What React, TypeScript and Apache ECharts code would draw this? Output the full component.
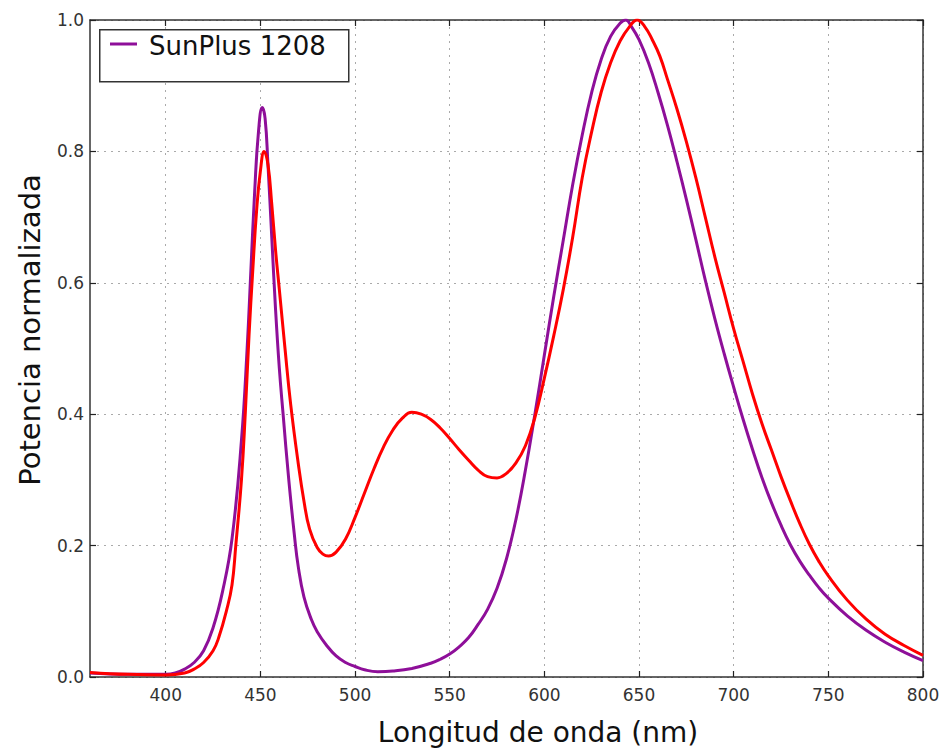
import React, { useEffect, useRef } from "react";
import * as echarts from "echarts";

const xTicks = [400, 450, 500, 550, 600, 650, 700, 750, 800];

const purpleWl = [360, 380, 400, 405, 410, 415, 420, 425, 430, 435, 440, 443, 445, 447, 449, 451, 452.5, 454, 456, 458, 460, 462, 465, 468, 470, 473, 477, 480, 485, 490, 495, 500, 505, 512, 520, 530, 540, 545, 550, 555, 560, 565, 570, 575, 580, 585, 590, 595, 600, 605, 610, 615, 620, 625, 630, 635, 640, 643, 646, 650, 655, 660, 665, 670, 675, 680, 685, 690, 695, 700, 705, 710, 715, 720, 725, 730, 735, 740, 745, 750, 760, 770, 780, 790, 800];
const purpleVal = [0.006, 0.004, 0.004, 0.006, 0.012, 0.022, 0.04, 0.075, 0.13, 0.21, 0.36, 0.5, 0.62, 0.74, 0.83, 0.867, 0.85, 0.78, 0.67, 0.56, 0.47, 0.4, 0.3, 0.215, 0.168, 0.122, 0.087, 0.069, 0.048, 0.032, 0.022, 0.016, 0.011, 0.008, 0.009, 0.013, 0.021, 0.027, 0.035, 0.046, 0.06, 0.08, 0.103, 0.135, 0.18, 0.24, 0.315, 0.4, 0.49, 0.58, 0.665, 0.75, 0.825, 0.89, 0.94, 0.975, 0.995, 1.0, 0.99, 0.97, 0.935, 0.89, 0.84, 0.785, 0.727, 0.666, 0.604, 0.546, 0.492, 0.441, 0.392, 0.346, 0.303, 0.265, 0.231, 0.201, 0.176, 0.155, 0.136, 0.12, 0.093, 0.071, 0.053, 0.038, 0.025];

const redWl = [360, 380, 400, 410, 415, 420, 425, 428, 432, 435, 437, 440, 442, 444, 446, 448, 450, 452, 454, 456, 458, 460, 463, 466, 470, 473, 476, 480, 483, 486, 490, 495, 500, 505, 510, 515, 520, 525, 530, 535, 540, 545, 550, 555, 560, 565, 570, 575, 580, 585, 590, 595, 600, 605, 610, 615, 620, 625, 630, 635, 640, 645, 649, 653, 657, 661, 665, 670, 675, 680, 685, 690, 695, 700, 705, 710, 715, 720, 725, 730, 735, 740, 745, 750, 760, 770, 780, 790, 800];
const redVal = [0.007, 0.004, 0.003, 0.006, 0.012, 0.022, 0.04, 0.06, 0.1, 0.14, 0.2, 0.3, 0.4, 0.52, 0.62, 0.71, 0.77, 0.8, 0.78, 0.72, 0.65, 0.59, 0.5, 0.415, 0.325, 0.268, 0.225, 0.197, 0.187, 0.184, 0.19, 0.21, 0.243, 0.28, 0.317, 0.35, 0.376, 0.394, 0.403, 0.4, 0.392, 0.379, 0.363, 0.346, 0.33, 0.315, 0.305, 0.303, 0.31, 0.326, 0.352, 0.395, 0.455, 0.52, 0.59, 0.67, 0.76, 0.83, 0.89, 0.935, 0.968, 0.99, 1.0, 0.99, 0.97, 0.945, 0.91, 0.865, 0.815, 0.76, 0.7, 0.64, 0.585, 0.53, 0.48, 0.43, 0.385, 0.345, 0.305, 0.268, 0.233, 0.202, 0.176, 0.154, 0.117, 0.088, 0.065, 0.048, 0.033];

const legendLabel = "SunPlus 1208";
const xTitle = "Longitud de onda (nm)";
const yTitle = "Potencia normalizada";

const PURPLE = "#8e0f99";
const RED = "#ff0000";
const FONT = "DejaVu Sans";

export default function App() {
  const ref = useRef<HTMLDivElement>(null);
  useEffect(() => {
    if (!ref.current) return;
    const chart = echarts.init(ref.current, null, { renderer: "svg" });
    const tickCommon = { show: true, inside: true, length: 6, lineStyle: { color: "#222", width: 1.2 } };
    const splitCommon = { show: true, lineStyle: { color: "#aaaaaa", type: [2, 5] as any, width: 1 } };
    const axisLineCommon = { show: true, onZero: false, lineStyle: { color: "#333", width: 1.5 } };
    const labelCommon = { fontFamily: FONT, fontSize: 17, color: "#333" };
    chart.setOption({
      animation: false,
      backgroundColor: "#ffffff",
      grid: { left: 90, top: 20, right: 29, bottom: 72, containLabel: false },
      xAxis: [
        {
          type: "value", min: 360, max: 800, position: "bottom",
          axisLine: axisLineCommon,
          axisTick: { ...tickCommon, customValues: xTicks },
          axisLabel: { ...labelCommon, margin: 9, customValues: xTicks, formatter: (v: number) => String(v) },
          splitLine: splitCommon,
        },
        {
          type: "value", min: 360, max: 800, position: "top",
          axisLine: axisLineCommon,
          axisTick: { ...tickCommon, customValues: xTicks },
          axisLabel: { show: false },
          splitLine: { show: false },
        },
      ],
      yAxis: [
        {
          type: "value", min: 0, max: 1, interval: 0.2, position: "left",
          axisLine: axisLineCommon,
          axisTick: tickCommon,
          axisLabel: { ...labelCommon, margin: 6, formatter: (v: number) => v.toFixed(1) },
          splitLine: splitCommon,
        },
        {
          type: "value", min: 0, max: 1, interval: 0.2, position: "right",
          axisLine: axisLineCommon,
          axisTick: tickCommon,
          axisLabel: { show: false },
          splitLine: { show: false },
        },
      ],
      series: [
        {
          name: legendLabel, type: "line", xAxisIndex: 0, yAxisIndex: 0,
          data: purpleWl.map((w, i) => [w, purpleVal[i]]),
          showSymbol: false, smooth: 0.45,
          lineStyle: { color: PURPLE, width: 3 }, itemStyle: { color: PURPLE },
        },
        {
          name: "", type: "line", xAxisIndex: 0, yAxisIndex: 0,
          data: redWl.map((w, i) => [w, redVal[i]]),
          showSymbol: false, smooth: 0.45,
          lineStyle: { color: RED, width: 3 }, itemStyle: { color: RED },
        },
      ],
      graphic: [
        { type: "rect", left: 99, top: 29, shape: { width: 249, height: 52 }, style: { fill: "#ffffff", stroke: "#333", lineWidth: 1.5 }, z: 100 },
        { type: "line", shape: { x1: 110, y1: 44, x2: 137, y2: 44 }, style: { stroke: PURPLE, lineWidth: 3 }, z: 101 },
        { type: "text", x: 149, y: 46, style: { text: legendLabel, fontFamily: FONT, fontSize: 26, fill: "#111", verticalAlign: "middle", align: "left" }, z: 101 },
        { type: "text", x: 538, y: 732, style: { text: xTitle, fontFamily: FONT, fontSize: 28, fill: "#111", align: "center", verticalAlign: "middle" } },
        { type: "text", x: 30, y: 330, rotation: Math.PI / 2, style: { text: yTitle, fontFamily: FONT, fontSize: 29, fill: "#111", align: "center", verticalAlign: "middle" } },
      ],
    });
    return () => chart.dispose();
  }, []);
  return <div ref={ref} style={{ width: 952, height: 749, position: "absolute", left: 0, top: 0 }} />;
}
